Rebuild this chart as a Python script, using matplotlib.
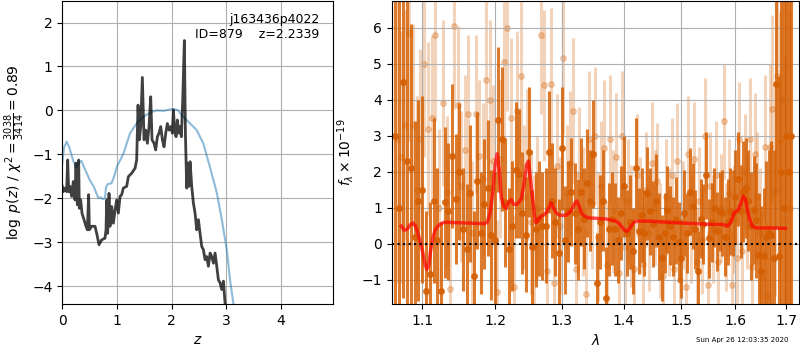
import matplotlib
matplotlib.use("Agg")
import matplotlib.pyplot as plt
from matplotlib.ticker import NullLocator, FixedLocator, FixedFormatter

# p(z) panel
pz_z = [0.000, 0.018, 0.049, 0.079, 0.098, 0.116, 0.140, 0.171, 0.201, 0.232,
        0.250, 0.275, 0.299, 0.311, 0.336, 0.360, 0.397, 0.433, 0.458, 0.482,
        0.495, 0.537, 0.598, 0.629, 0.672, 0.720, 0.781, 0.800, 0.812, 0.830,
        0.855, 0.873, 0.904, 0.934, 0.965, 0.995, 1.026, 1.056, 1.087, 1.117,
        1.178, 1.209, 1.270, 1.331, 1.361, 1.386, 1.410, 1.435, 1.465, 1.496,
        1.526, 1.557, 1.587, 1.618, 1.642, 1.679, 1.709, 1.740, 1.770, 1.801,
        1.832, 1.862, 1.893, 1.923, 1.954, 1.984, 2.015, 2.033, 2.057, 2.082,
        2.106, 2.131, 2.155, 2.179, 2.204, 2.234, 2.253, 2.277, 2.295, 2.320,
        2.338, 2.369, 2.399, 2.430, 2.460, 2.491, 2.521, 2.552, 2.582, 2.613,
        2.643, 2.674, 2.705, 2.735, 2.766, 2.796, 2.827, 2.857, 2.888, 2.918,
        2.949, 2.979, 3.010, 3.100, 3.200]
pz_logp = [-1.73, -1.85, -1.77, -1.85, -1.13, -1.85, -1.73, -1.96, -1.62, -2.04,
           -1.20, -2.15, -1.13, -2.23, -2.04, -2.34, -2.49, -2.64, -2.72, -1.92,
           -2.72, -2.64, -2.64, -2.80, -3.06, -2.95, -2.91, -2.72, -2.04, -2.80,
           -1.89, -2.64, -2.19, -2.57, -2.27, -2.04, -2.34, -1.96, -1.92, -1.77,
           -1.73, -1.51, -1.43, -1.32, -1.13, 0.12, -0.67, -0.37, 0.75, -0.67,
           -0.45, -0.75, -0.37, 0.31, -0.67, -0.75, -0.90, -0.60, -0.52, -0.37,
           -0.67, -0.83, -0.52, -0.30, -0.45, -0.37, -0.52, 0.01, -0.45, -0.60,
           -0.22, -0.52, -0.37, -0.60, 0.23, 1.59, -0.52, -1.77, -1.20, -1.73,
           -1.17, -1.73, -2.11, -2.34, -2.72, -2.49, -2.80, -3.10, -3.17, -3.40,
           -3.33, -3.55, -3.25, -3.33, -3.48, -3.25, -3.55, -3.86, -3.93, -4.08,
           -3.89, -4.39, -4.69, -5.40, -6.00]

prior_z = [0.00, 0.03, 0.08, 0.13, 0.20, 0.26, 0.30, 0.35, 0.40, 0.50,
           0.58, 0.66, 0.70, 0.74, 0.78, 0.80, 0.83, 0.90, 0.95, 1.00,
           1.12, 1.24, 1.36, 1.45, 1.54, 1.65, 1.73, 1.85, 2.00, 2.08,
           2.12, 2.19, 2.34, 2.46, 2.58, 2.70, 2.83, 2.92, 3.01, 3.07,
           3.13, 3.25]
prior_logp = [-1.20, -0.85, -0.71, -0.85, -1.15, -1.30, -1.20, -1.15, -1.30, -1.58,
              -1.75, -2.00, -1.98, -2.02, -2.00, -1.75, -1.68, -1.66, -1.50, -1.28,
              -0.98, -0.52, -0.30, -0.18, -0.10, -0.03, 0.00, -0.01, 0.03, 0.02,
              0.00, -0.12, -0.30, -0.45, -0.75, -1.28, -1.89, -2.49, -3.17, -3.86,
              -4.39, -5.50]

# spectrum panel, first orientation (solid)
wave_a = [1.065, 1.070, 1.075, 1.080, 1.085, 1.090, 1.095, 1.100, 1.105, 1.110,
          1.115, 1.120, 1.125, 1.130, 1.135, 1.140, 1.145, 1.150, 1.155, 1.160,
          1.165, 1.170, 1.175, 1.180, 1.185, 1.190, 1.195, 1.200, 1.205, 1.210,
          1.215, 1.220, 1.225, 1.230, 1.235, 1.240, 1.245, 1.250, 1.255, 1.260,
          1.265, 1.270, 1.275, 1.280, 1.285, 1.290, 1.295, 1.300, 1.305, 1.310,
          1.315, 1.320, 1.325, 1.330, 1.335, 1.340, 1.345, 1.350, 1.355, 1.360,
          1.365, 1.370, 1.375, 1.380, 1.385, 1.390, 1.395, 1.400, 1.405, 1.410,
          1.415, 1.420, 1.425, 1.430, 1.435, 1.440, 1.445, 1.450, 1.455, 1.460,
          1.465, 1.470, 1.475, 1.480, 1.485, 1.490, 1.495, 1.500, 1.505, 1.510,
          1.515, 1.520, 1.525, 1.530, 1.535, 1.540, 1.545, 1.550, 1.555, 1.560,
          1.565, 1.570, 1.575, 1.580, 1.585, 1.590, 1.595, 1.600, 1.605, 1.610,
          1.615, 1.620, 1.625, 1.630, 1.635, 1.640, 1.645, 1.650, 1.655, 1.660,
          1.665, 1.670, 1.675, 1.680, 1.685, 1.690, 1.695, 1.700, 1.705, 1.710]
flux_a = [3.0, 1.0, 4.5, 2.3, 2.1, 0.2, 1.2, 1.5, -1.3, -0.85,
          1.2, 0.1, -1.3, 1.15, 0.9, 2.45, 1.25, 2.0, 0.4, -0.15,
          1.4, -0.9, 1.75, 0.3, 1.1, 1.55, 0.25, 0.1, 3.45, 2.9,
          1.15, -0.15, 0.5, 2.05, 1.95, 0.85, 0.25, 2.55, -0.1, 0.4,
          0.7, 0.5, 0.5, 2.55, 1.2, 0.6, -0.25, 2.65, 0.1, 0.9,
          1.45, 0.85, 0.4, 1.45, 0.7, 1.7, 1.2, 2.5, -1.1, 0.6,
          1.2, -1.5, 0.4, 0.7, 0.4, 0.1, 0.85, 1.6, 0.3, 0.6,
          -0.2, 2.1, 0.35, 0.8, 0.3, 1.4, 0.9, 0.55, 1.2, 0.2,
          -0.4, 0.3, 0.95, 0.5, 0.2, 0.65, 0.05, -0.4, 0.85, 0.3,
          1.45, 1.05, 0.4, -0.75, 0.7, 0.55, 1.9, 0.15, 0.6, 1.0,
          0.35, 0.9, 0.85, 0.2, 0.6, 0.9, 0.85, 1.3, 1.8, 0.9,
          1.45, 1.55, 1.2, 0.5, 0.95, 0.65, -0.3, -0.75, -0.35, 0.2,
          0.3, 0.25, -0.4, 4.45, -0.35, 2.0, 1.0, 3.0, 2.0, 3.0]
err_a = [8.0, 7.0, 6.0, 4.5, 4.0, 3.2, 2.8, 2.6, 2.2, 2.0,
         2.3, 2.0, 1.9, 2.1, 1.9, 2.0, 1.8, 1.9, 1.7, 1.8,
         1.9, 1.8, 1.9, 1.7, 1.8, 1.9, 1.8, 1.9, 2.0, 2.0,
         1.8, 1.7, 1.8, 1.9, 1.8, 1.7, 1.6, 1.8, 1.6, 1.6,
         1.6, 1.5, 1.6, 1.7, 1.6, 1.5, 1.5, 1.7, 1.5, 1.4,
         1.5, 1.4, 1.4, 1.5, 1.4, 1.5, 1.4, 1.5, 1.4, 1.3,
         1.4, 1.4, 1.3, 1.3, 1.3, 1.2, 1.3, 1.4, 1.2, 1.3,
         1.2, 1.4, 1.2, 1.3, 1.2, 1.3, 1.2, 1.2, 1.3, 1.2,
         1.2, 1.1, 1.2, 1.1, 1.1, 1.2, 1.1, 1.1, 1.2, 1.1,
         1.2, 1.2, 1.1, 1.1, 1.1, 1.1, 1.2, 1.1, 1.1, 1.1,
         1.1, 1.1, 1.2, 1.1, 1.2, 1.2, 1.2, 1.3, 1.3, 1.3,
         1.4, 1.4, 1.4, 1.5, 1.5, 1.6, 1.7, 1.8, 1.9, 2.1,
         2.3, 2.6, 3.0, 4.0, 5.0, 7.0, 8.0, 9.0, 10.0, 10.0]

# spectrum panel, second orientation (faint)
wave_b = [1.0675, 1.0725, 1.0775, 1.0825, 1.0875, 1.0925, 1.0975, 1.1025, 1.1075, 1.1125,
          1.1175, 1.1225, 1.1275, 1.1325, 1.1375, 1.1425, 1.1475, 1.1525, 1.1575, 1.1625,
          1.1675, 1.1725, 1.1775, 1.1825, 1.1875, 1.1925, 1.1975, 1.2025, 1.2075, 1.2125,
          1.2175, 1.2225, 1.2275, 1.2325, 1.2375, 1.2425, 1.2475, 1.2525, 1.2575, 1.2625,
          1.2675, 1.2725, 1.2775, 1.2825, 1.2875, 1.2925, 1.2975, 1.3025, 1.3075, 1.3125,
          1.3175, 1.3225, 1.3275, 1.3325, 1.3375, 1.3425, 1.3475, 1.3525, 1.3575, 1.3625,
          1.3675, 1.3725, 1.3775, 1.3825, 1.3875, 1.3925, 1.3975, 1.4025, 1.4075, 1.4125,
          1.4175, 1.4225, 1.4275, 1.4325, 1.4375, 1.4425, 1.4475, 1.4525, 1.4575, 1.4625,
          1.4675, 1.4725, 1.4775, 1.4825, 1.4875, 1.4925, 1.4975, 1.5025, 1.5075, 1.5125,
          1.5175, 1.5225, 1.5275, 1.5325, 1.5375, 1.5425, 1.5475, 1.5525, 1.5575, 1.5625,
          1.5675, 1.5725, 1.5775, 1.5825, 1.5875, 1.5925, 1.5975, 1.6025, 1.6075, 1.6125,
          1.6175, 1.6225, 1.6275, 1.6325, 1.6375, 1.6425, 1.6475, 1.6525, 1.6575, 1.6625,
          1.6675, 1.6725, 1.6775, 1.6825, 1.6875, 1.6925, 1.6975, 1.7025, 1.7075]
flux_b = [2.9, 2.4, 3.3, 5.85, 3.3, 1.5, 2.9, 5.0, 3.2, 3.5,
          5.8, 1.0, 3.9, 1.45, -1.25, 6.05, 3.85, 1.6, 2.6, 3.6,
          0.3, 3.6, 2.45, 1.8, 4.55, 4.0, 2.3, -1.35, 2.35, 5.05,
          6.0, 3.5, -1.2, 3.7, 4.65, 1.3, 2.2, 0.6, -0.1, 1.0,
          5.8, 4.4, -0.75, 4.45, -1.1, 2.15, 0.5, 5.15, 1.4, 2.25,
          3.7, -0.7, 1.9, 0.9, -1.4, 2.9, 1.1, 3.0, 0.2, 1.6,
          2.65, -0.6, 2.9, 0.9, 2.4, -0.8, 3.0, -0.1, 1.2, 0.5,
          -0.7, 1.9, 0.8, -0.55, 1.5, 0.3, 2.25, 1.0, 1.75, 0.1,
          -0.9, 1.3, 0.6, 1.9, -0.7, 2.3, -1.0, 0.8, -1.2, 2.5,
          0.4, 2.35, -0.5, 1.2, 0.1, 3.0, -1.15, 1.6, 0.4, 1.9,
          -0.5, 1.0, 3.4, 0.2, 1.4, -1.15, 0.7, -0.4, 2.9, -0.2,
          2.0, 0.9, 2.9, -0.65, 2.5, 1.3, 0.3, -0.95, 2.7, -1.45,
          2.7, 3.75, 1.45, 4.65, 2.85, 4.0, 0.7, 2.0, 1.0]
err_b = [4.0, 3.5, 3.2, 3.0, 2.8, 2.6, 2.5, 2.6, 2.4, 2.3,
         2.4, 2.2, 2.3, 2.1, 2.0, 2.3, 2.2, 2.1, 2.1, 2.2,
         2.0, 2.2, 2.1, 2.1, 2.2, 2.2, 2.1, 2.0, 2.2, 2.3,
         2.3, 2.2, 2.0, 2.2, 2.2, 2.0, 2.1, 2.0, 2.0, 2.0,
         2.2, 2.1, 2.0, 2.1, 1.9, 2.0, 1.9, 2.1, 1.9, 2.0,
         2.0, 1.8, 1.9, 1.8, 1.8, 1.9, 1.8, 1.9, 1.8, 1.8,
         1.9, 1.8, 1.8, 1.7, 1.8, 1.7, 1.8, 1.7, 1.7, 1.7,
         1.7, 1.7, 1.6, 1.6, 1.6, 1.6, 1.7, 1.6, 1.6, 1.6,
         1.6, 1.6, 1.5, 1.6, 1.5, 1.6, 1.5, 1.5, 1.5, 1.6,
         1.5, 1.6, 1.5, 1.5, 1.5, 1.6, 1.5, 1.5, 1.5, 1.5,
         1.5, 1.5, 1.6, 1.5, 1.5, 1.5, 1.5, 1.5, 1.6, 1.6,
         1.6, 1.6, 1.7, 1.7, 1.7, 1.8, 1.8, 1.9, 2.0, 2.1,
         2.3, 2.6, 2.9, 3.2, 3.6, 4.0, 4.5, 5.0, 5.5]

# best-fit model
model_wave = [1.0727, 1.0765, 1.0800, 1.0840, 1.0877, 1.0910, 1.0942, 1.0975, 1.1008, 1.1035,
              1.1060, 1.1085, 1.1110, 1.1140, 1.1170, 1.1207, 1.1250, 1.1296, 1.1850, 1.1890,
              1.1930, 1.1970, 1.2000, 1.2031, 1.2060, 1.2090, 1.2125, 1.2160, 1.2200, 1.2235,
              1.2270, 1.2308, 1.2345, 1.2380, 1.2420, 1.2460, 1.2490, 1.2520, 1.2555, 1.2580,
              1.2605, 1.2640, 1.2680, 1.2720, 1.2757, 1.2800, 1.2834, 1.2870, 1.2910, 1.2960,
              1.3013, 1.3070, 1.3117, 1.3170, 1.3200, 1.3232, 1.3270, 1.3300, 1.3328, 1.3380,
              1.3435, 1.3705, 1.3870, 1.3930, 1.3980, 1.4020, 1.4054, 1.4090, 1.4120, 1.4160,
              1.4206, 1.4434, 1.4960, 1.5567, 1.5755, 1.5850, 1.5910, 1.5977, 1.6060, 1.6110,
              1.6150, 1.6190, 1.6230, 1.6280, 1.6330, 1.6380, 1.6430, 1.6730, 1.6985]
model_flux = [0.49, 0.38, 0.40, 0.52, 0.58, 0.50, 0.31, 0.05, -0.25, -0.55,
              -0.71, -0.60, -0.20, 0.15, 0.38, 0.49, 0.56, 0.60, 0.56, 0.60,
              0.85, 1.45, 2.15, 2.50, 2.10, 1.30, 1.05, 0.98, 1.15, 1.23,
              1.10, 1.09, 1.15, 1.23, 1.60, 2.15, 2.30, 1.80, 1.23, 0.80,
              0.58, 0.68, 0.77, 0.80, 0.86, 1.00, 1.14, 1.00, 0.86, 0.80,
              0.79, 0.80, 0.86, 1.00, 1.12, 1.19, 1.05, 0.88, 0.81, 0.75,
              0.72, 0.69, 0.63, 0.55, 0.44, 0.37, 0.35, 0.40, 0.49, 0.58,
              0.63, 0.63, 0.58, 0.54, 0.54, 0.49, 0.60, 0.86, 0.95, 1.15,
              1.32, 1.25, 0.95, 0.65, 0.49, 0.45, 0.44, 0.44, 0.43]

spec_ticks = [1.1, 1.2, 1.3, 1.4, 1.5, 1.6, 1.7]
g141_color = (0.8353, 0.3686, 0.0)

fig = plt.figure(figsize=(8, 3.5), dpi=100)

# left: redshift probability
ax = fig.add_axes([0.0779, 0.1314, 0.3387, 0.8657])
ax.plot(prior_z, prior_logp, color='tab:blue', alpha=0.5, lw=1.5)
ax.plot(pz_z, pz_logp, color='k', alpha=0.75, lw=2)
ax.set_xlim(0, 4.96)
ax.set_ylim(max(pz_logp) - 6, max(pz_logp) + 0.9)
ax.set_xticks([0, 1, 2, 3, 4])
ax.set_xlabel(r'$z$')
ax.set_ylabel(r'$\log\ p(z)$ / $\chi^2=\frac{3038}{3414}=0.89$')
ax.grid()
ax.text(0.95, 0.96, 'j163436p4022\nID=879    z=2.2339', ha='right', va='top',
        transform=ax.transAxes, fontsize=9)

# right: spectrum
ax2 = fig.add_axes([0.4896, 0.1314, 0.5095, 0.8657])
ax2.errorbar(wave_b, flux_b, err_b, color=g141_color, alpha=0.27, marker='o', ms=4,
             linestyle='none', elinewidth=2.2, zorder=1)
ax2.errorbar(wave_a, flux_a, err_a, color=g141_color, alpha=0.82, marker='o', ms=4,
             linestyle='none', elinewidth=2.2, zorder=2)
ax2.plot(model_wave, model_flux, color='r', alpha=0.7, lw=2.5, zorder=3)
ax2.axhline(0, color='k', linestyle=':', lw=1.5, zorder=4)
ax2.set_xscale('log')
ax2.set_xlim(1.0605, 1.727)
ax2.set_ylim(-1.67, 6.74)
ax2.xaxis.set_major_locator(FixedLocator(spec_ticks))
ax2.xaxis.set_major_formatter(FixedFormatter([f'{t:.1f}' for t in spec_ticks]))
ax2.xaxis.set_minor_locator(NullLocator())
ax2.set_xlabel(r'$\lambda$')
ax2.set_ylabel(r'$f_\lambda \times 10^{-19}$')
ax2.grid()

fig.text(0.985, 0.02, 'Sun Apr 26 12:03:35 2020', ha='right', va='bottom', fontsize=5)

fig.savefig('out.png', dpi=100)
